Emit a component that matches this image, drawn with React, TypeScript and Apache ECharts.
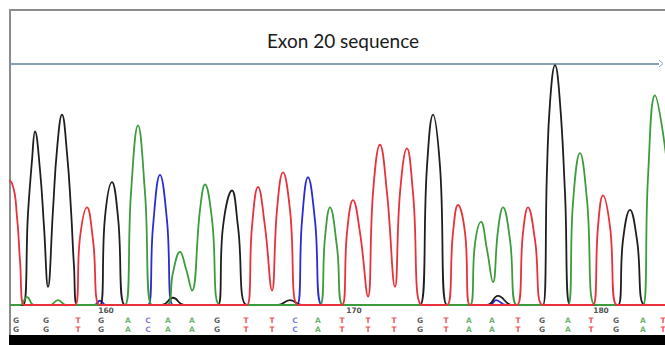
import React, { useEffect, useRef } from "react";
import * as echarts from "echarts";

// Trace intensities per channel: [scan, intensity]
const traceG: [number, number][] = [
  [0, 0], [6.5, 0], [9, 760], [11, 1200], [12.5, 1440], [15, 1120], [17, 650], [19, 150],
  [21.5, 790], [23.5, 1290], [26, 1580], [28.5, 1260], [30.5, 790], [32, 320], [33.5, 0],
  [45, 0], [47.5, 730], [51, 1020], [54, 730], [57.5, 0],
  [76, 0], [81.5, 60], [87, 0],
  [104, 0], [106.5, 650], [111, 950], [114, 650], [118.5, 0],
  [134, 0], [140, 40], [146, 0],
  [205, 0], [208.5, 1150], [211.5, 1580], [215, 1150], [218.5, 0],
  [238.5, 0], [244, 75], [251, 0],
  [266.5, 0], [268.5, 1120], [270, 1680], [272.5, 1990], [275, 1680], [277.5, 930], [280, 0],
  [304, 0], [306.5, 540], [310, 790], [313.5, 540], [317.5, 0], [327.5, 0],
];

const traceA: [number, number][] = [
  [0, 0], [5, 0], [8.5, 65], [12, 0], [20, 0], [24, 40], [28, 0],
  [57.5, 0], [60.5, 930], [64, 1490], [67.5, 930], [71, 0],
  [78.5, 0], [81.5, 270], [85, 440], [88, 300], [91, 120], [95, 790], [97.5, 1000], [101, 710], [105, 0],
  [155, 0], [157.5, 560], [160, 810], [163.5, 480], [166.5, 0],
  [230, 0], [232.5, 510], [235.5, 690], [238.5, 460], [241.5, 190], [244, 620], [246.5, 810], [250, 540], [253.5, 0],
  [279, 0], [281.5, 850], [285, 1260], [288.5, 870], [292.5, 0],
  [316.5, 0], [319, 1060], [322.5, 1740], [326, 1480], [330, 950],
];

const traceT: [number, number][] = [
  [-3, 1040], [1, 1010], [3.5, 730], [5, 370], [7, 0],
  [32.5, 0], [35, 560], [38.5, 810], [41.5, 540], [45, 0],
  [118.5, 0], [121, 650], [124, 980], [127.5, 650], [131, 120], [133.5, 790], [136.5, 1100], [140, 790], [144, 0],
  [166, 0], [168.5, 600], [171.5, 870], [175, 600], [179, 70], [181.5, 930], [185, 1330], [188.5, 930],
  [192.5, 150], [195, 930], [198.5, 1300], [201.5, 930], [206, 0],
  [218.5, 0], [221.5, 600], [224, 830], [227.5, 600], [230, 0],
  [253.5, 0], [256.5, 600], [259, 810], [262.5, 540], [266.5, 0],
  [291.5, 0], [294, 650], [296.5, 910], [300, 650], [303.5, 0], [327.5, 0],
];

const traceC: [number, number][] = [
  [0, 0], [42, 0], [45, 35], [48, 0],
  [69, 0], [71.5, 650], [75, 1080], [78.5, 700], [81.5, 0],
  [143.5, 0], [146, 700], [149, 1060], [152.5, 700], [156, 0],
  [240, 0], [243, 40], [248, 0], [327.5, 0],
];

// Base calls and their scan positions
const baseCalls = [
  "G", "G", "T", "G", "A", "C", "A", "A", "G", "T", "T", "C", "A", "T",
  "T", "T", "G", "T", "A", "A", "T", "G", "A", "T", "G", "A", "T",
];
const baseScans = [
  3, 18, 34, 45.5, 59, 69, 79, 91, 103.5, 118, 131, 142.5, 154, 166,
  179, 192, 205, 218, 229.5, 241, 254, 266, 279, 290.5, 303, 316.5, 326.5,
];

// Position tick labels
const tickLabels = ["160", "170", "180"];
const tickScans = [48, 172, 295.5];

const TITLE = "Exon 20 sequence";

const COLORS: Record<string, string> = {
  G: "#1e1e1e",
  A: "#3c9c3c",
  T: "#e8313a",
  C: "#2b2bd6",
};
const LETTER_COLORS: Record<string, string> = {
  G: "#333333",
  A: "#46a046",
  T: "#e42828",
  C: "#5a5ad2",
};

const ROW_NUM = 3;
const ROW_1 = 2;
const ROW_2 = 1.1;

export default function App() {
  const ref = useRef<HTMLDivElement>(null);

  useEffect(() => {
    document.body.style.margin = "0";
    const chart = echarts.init(ref.current!, null, { renderer: "svg" });

    const lineSeries = (name: string, data: [number, number][], color: string) => ({
      type: "line",
      name,
      data,
      xAxisIndex: 0,
      yAxisIndex: 0,
      smooth: 0.45,
      symbol: "none",
      showSymbol: false,
      silent: true,
      lineStyle: { color, width: 1.8 },
      itemStyle: { color },
    });

    const labelSeries = (items: { value: number[]; name: string; label?: any }[], color: string) => ({
      type: "scatter",
      xAxisIndex: 1,
      yAxisIndex: 1,
      symbol: "circle",
      symbolSize: 1,
      silent: true,
      itemStyle: { color: "rgba(0,0,0,0)" },
      data: items,
      label: {
        show: true,
        position: "inside",
        formatter: (p: any) => p.name,
        fontSize: 7.5,
        fontWeight: "bold",
        color,
        fontFamily: "DejaVu Sans",
      },
    });

    const letterRow = (row: number) =>
      labelSeries(
        baseCalls.map((b, i) => ({
          value: [baseScans[i], row],
          name: b,
          label: { color: LETTER_COLORS[b] },
        })),
        "#333"
      );

    chart.setOption({
      animation: false,
      backgroundColor: "#ffffff",
      grid: [
        { left: 10, right: 0, top: 64, bottom: 37.6 },
        { left: 10, right: 0, top: 300, bottom: 5 },
      ],
      xAxis: [
        { type: "value", gridIndex: 0, min: 0, max: 327.5, show: false },
        { type: "value", gridIndex: 1, min: 0, max: 327.5, show: false },
      ],
      yAxis: [
        { type: "value", gridIndex: 0, min: -20, max: 2000, show: false },
        { type: "value", gridIndex: 1, min: 0, max: 4, show: false },
      ],
      series: [
        lineSeries("C", traceC, COLORS.C),
        lineSeries("G", traceG, COLORS.G),
        lineSeries("A", traceA, COLORS.A),
        lineSeries("T", traceT, COLORS.T),
        letterRow(ROW_1),
        letterRow(ROW_2),
        labelSeries(
          tickLabels.map((t, i) => ({ value: [tickScans[i], ROW_NUM], name: t })),
          "#222"
        ),
      ],
      graphic: [
        {
          type: "line",
          shape: { x1: 9, y1: 10, x2: 665, y2: 10 },
          style: { stroke: "#8c8c8c", lineWidth: 2 },
          silent: true,
        },
        {
          type: "line",
          shape: { x1: 10, y1: 10, x2: 10, y2: 336 },
          style: { stroke: "#8c8c8c", lineWidth: 2 },
          silent: true,
        },
        {
          type: "line",
          shape: { x1: 11, y1: 64, x2: 659, y2: 64 },
          style: { stroke: "#87a0b2", lineWidth: 2 },
          silent: true,
        },
        {
          type: "polyline",
          shape: { points: [[659, 60], [663, 63.5], [659, 67]] },
          style: { stroke: "#87a0b2", lineWidth: 1, fill: "none" },
          silent: true,
        },
        {
          type: "rect",
          shape: { x: 9, y: 335, width: 656, height: 10 },
          style: { fill: "#000000" },
          silent: true,
        },
        {
          type: "text",
          x: 343,
          y: 40,
          style: {
            text: TITLE,
            fill: "#1a1a1a",
            font: "19px Lato",
            textAlign: "center",
            textVerticalAlign: "middle",
          },
          silent: true,
        },
      ],
    });

    return () => chart.dispose();
  }, []);

  return (
    <div
      ref={ref}
      style={{ position: "fixed", left: 0, top: 0, width: 665, height: 345 }}
    />
  );
}
